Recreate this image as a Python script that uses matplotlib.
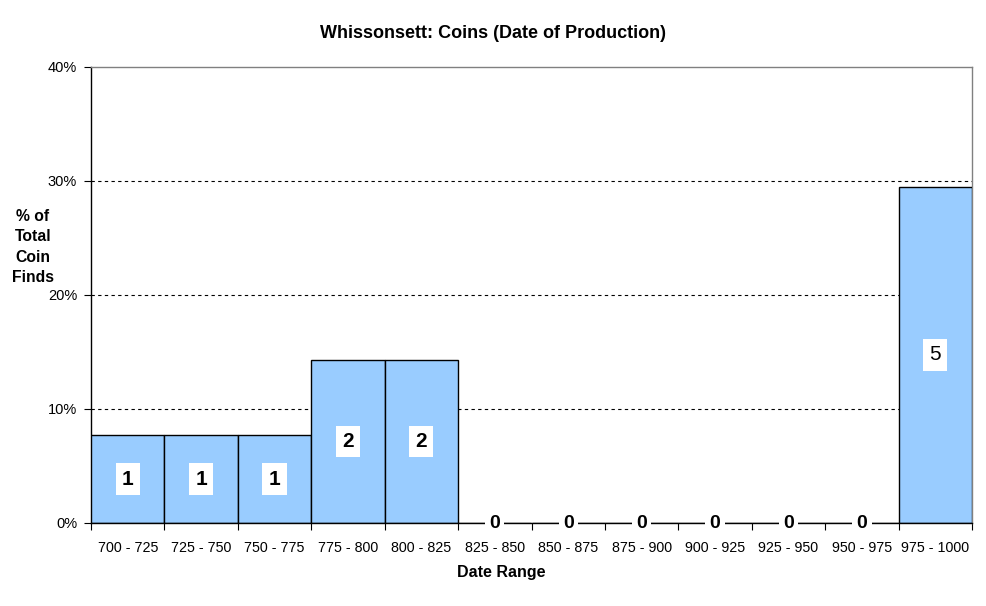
import matplotlib
matplotlib.use("Agg")
import matplotlib.pyplot as plt
import numpy as np

plt.rcParams['font.family'] = ['Liberation Sans', 'DejaVu Sans']

categories = ["700 - 725", "725 - 750", "750 - 775", "775 - 800", "800 - 825",
              "825 - 850", "850 - 875", "875 - 900", "900 - 925", "925 - 950",
              "950 - 975", "975 - 1000"]
percent = [7.7, 7.7, 7.7, 14.3, 14.3, 0, 0, 0, 0, 0, 0, 29.5]
counts = [1, 1, 1, 2, 2, 0, 0, 0, 0, 0, 0, 5]
yticks = [0, 10, 20, 30, 40]

fig = plt.figure(figsize=(9.87, 6.06), dpi=100)
ax = fig.add_axes([91/987, 83/606, (972-91)/987, (523-67)/606])

x = np.arange(len(categories))
ax.bar(x, percent, width=1.0, color='#99CCFF', edgecolor='black', linewidth=1.0, zorder=3)

ax.set_xlim(-0.5, len(categories) - 0.5)
ax.set_ylim(0, 40)

for yv in yticks[1:-1]:
    ax.axhline(yv, color='black', linestyle=(0, (3, 3)), linewidth=0.8, zorder=1)

for xi, p, c in zip(x, percent, counts):
    if p > 0:
        ax.text(xi, p / 2, str(c), ha='center', va='center', fontsize=15,
                fontweight='bold' if c != 5 else 'normal', zorder=5,
                bbox=dict(boxstyle='square,pad=0.3', facecolor='white', edgecolor='none'))
    else:
        ax.text(xi, 0, str(c), ha='center', va='center', fontsize=14,
                fontweight='bold', zorder=5,
                bbox=dict(boxstyle='square,pad=0.22', facecolor='white', edgecolor='none'))

ax.set_yticks(yticks)
ax.set_yticklabels([f"{v}%" for v in yticks], fontsize=10.5)
ax.set_xticks(np.arange(-0.5, len(categories), 1.0))
ax.set_xticklabels([])
ax.set_xticks(x, minor=True)
ax.set_xticklabels(categories, minor=True, fontsize=10.3)
ax.tick_params(axis='x', which='minor', length=0, pad=13)
ax.tick_params(axis='x', which='major', length=5, direction='out', color='black')
ax.tick_params(axis='y', length=5, direction='out', color='black', pad=5)

for s in ['left', 'bottom']:
    ax.spines[s].set_color('black')
    ax.spines[s].set_linewidth(1.0)
for s in ['top', 'right']:
    ax.spines[s].set_color('#808080')
    ax.spines[s].set_linewidth(1.0)
ax.spines['bottom'].set_zorder(4)

fig.text(493/987, 1 - 33/606, "Whissonsett: Coins (Date of Production)", ha='center', va='center',
         fontsize=13, fontweight='bold')
fig.text(501/987, 1 - 573/606, "Date Range", ha='center', va='center', fontsize=11.5, fontweight='bold')
fig.text(33/987, 1 - 247/606, "% of\nTotal\nCoin\nFinds", ha='center', va='center', fontsize=11.3,
         fontweight='bold', linespacing=1.42)

fig.savefig("out.png", dpi=100, facecolor='white')
